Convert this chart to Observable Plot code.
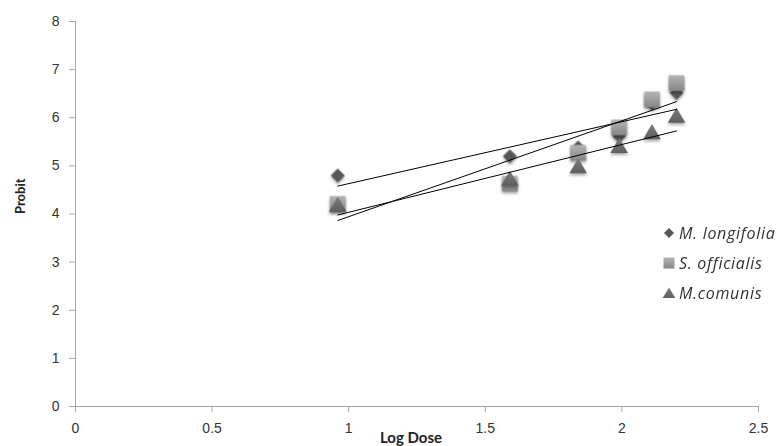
<!DOCTYPE html>
<html>
<head>
<meta charset="utf-8">
<script src="https://cdn.jsdelivr.net/npm/d3@7"></script>
<script src="https://cdn.jsdelivr.net/npm/@observablehq/plot@0.6"></script>
<style>
  html, body { margin: 0; padding: 0; background: #fff; }
  #wrap { position: relative; width: 783px; height: 446px; overflow: hidden; }
  #wrap svg.plot g[aria-label="dot"] { filter: drop-shadow(0px 2px 1.5px rgba(0,0,0,0.35)); }
  #legend { position: absolute; left: 662px; top: 218px; font-family: "Open Sans", sans-serif; font-style: italic; font-size: 16px; letter-spacing: 0.7px; color: #333; white-space: nowrap; }
  #legend .row { height: 30px; display: flex; align-items: center; }
  #legend svg { margin-right: 3px; flex: none; }
</style>
</head>
<body>
<svg width="0" height="0" style="position:absolute">
  <defs>
    <linearGradient id="gSq" x1="0" y1="0" x2="0" y2="1">
      <stop offset="0" stop-color="#b4b4b4"/>
      <stop offset="1" stop-color="#878787"/>
    </linearGradient>
    <linearGradient id="gTri" x1="0" y1="0" x2="0" y2="1">
      <stop offset="0" stop-color="#7c7c7c"/>
      <stop offset="1" stop-color="#5e5e5e"/>
    </linearGradient>
  </defs>
</svg>
<div id="wrap"></div>
<script>
const logDose = [0.96, 1.59, 1.84, 1.99, 2.11, 2.2];
const longifolia = [4.8, 5.2, 5.38, 5.62, 6.3, 6.52];
const officialis = [4.21, 4.63, 5.27, 5.8, 6.38, 6.72];
const comunis = [4.15, 4.69, 4.95, 5.37, 5.66, 6.0];
const seriesNames = ["M. longifolia", "S. officialis", "M.comunis"];
const xTicks = [0, 0.5, 1, 1.5, 2, 2.5];
const yTicks = [0, 1, 2, 3, 4, 5, 6, 7, 8];

const mk = (vals) => logDose.map((x, i) => ({x, y: vals[i]}));
const dL = mk(longifolia), dS = mk(officialis), dC = mk(comunis);

const chart = Plot.plot({
  width: 783,
  height: 446,
  marginLeft: 75,
  marginRight: 25,
  marginTop: 21,
  marginBottom: 40,
  style: {fontFamily: "'Liberation Sans', Arial, sans-serif", fontSize: "14px", color: "#333", background: "#fff"},
  x: {domain: [0, 2.5]},
  y: {domain: [0, 8]},
  marks: [
    Plot.ruleX([0], {stroke: "#a6a6a6", strokeWidth: 1}),
    Plot.ruleY([0], {stroke: "#a6a6a6", strokeWidth: 1}),
    Plot.axisX({ticks: xTicks, tickSize: 6, tickPadding: 11, stroke: "#a6a6a6", fill: "#333", label: null,
      tickFormat: d => String(d)}),
    Plot.axisY({ticks: yTicks, tickSize: 6, tickPadding: 10, stroke: "#a6a6a6", fill: "#333", label: null,
      tickFormat: d => String(d)}),
    Plot.dot(dL, {x: "x", y: "y", symbol: "diamond2", r: 6.3, fill: "#575757", stroke: "none"}),
    Plot.dot(dS, {x: "x", y: "y", symbol: "square", r: 8.9, fill: "url(#gSq)", stroke: "none"}),
    Plot.dot(dC, {x: "x", y: "y", symbol: "triangle", r: 6.5, fill: "url(#gTri)", stroke: "none"}),
    Plot.linearRegressionY(dL, {x: "x", y: "y", stroke: "#000", strokeWidth: 1, ci: 0}),
    Plot.linearRegressionY(dS, {x: "x", y: "y", stroke: "#000", strokeWidth: 1, ci: 0}),
    Plot.linearRegressionY(dC, {x: "x", y: "y", stroke: "#000", strokeWidth: 1, ci: 0}),
    Plot.text(["Probit"], {frameAnchor: "left", dx: -55, rotate: -90, fontWeight: "bold", fontSize: 13,
      fontFamily: "Lato, 'Open Sans', sans-serif", fill: "#222"}),
    Plot.text(["Log Dose"], {frameAnchor: "bottom", dy: 36, dx: -6, fontWeight: "bold", fontSize: 15,
      fontFamily: "Lato, 'Open Sans', sans-serif", fill: "#222"})
  ]
});
chart.classList.add("plot");
document.getElementById("wrap").appendChild(chart);

// legend
const legend = document.createElement("div");
legend.id = "legend";
const syms = [
  '<svg width="14" height="14" viewBox="-7 -7 14 14"><path d="M0,-5L5,0L0,5L-5,0Z" fill="#575757"/></svg>',
  '<svg width="14" height="14" viewBox="-7 -7 14 14"><rect x="-5.5" y="-5.5" width="11" height="11" fill="url(#gSq)"/></svg>',
  '<svg width="14" height="14" viewBox="-7 -7 14 14"><path d="M0,-5.5L6.3,5L-6.3,5Z" fill="url(#gTri)"/></svg>'
];
seriesNames.forEach((n, i) => {
  const row = document.createElement("div");
  row.className = "row";
  row.innerHTML = syms[i] + "<span>" + n + "</span>";
  legend.appendChild(row);
});
document.getElementById("wrap").appendChild(legend);
</script>
</body>
</html>
